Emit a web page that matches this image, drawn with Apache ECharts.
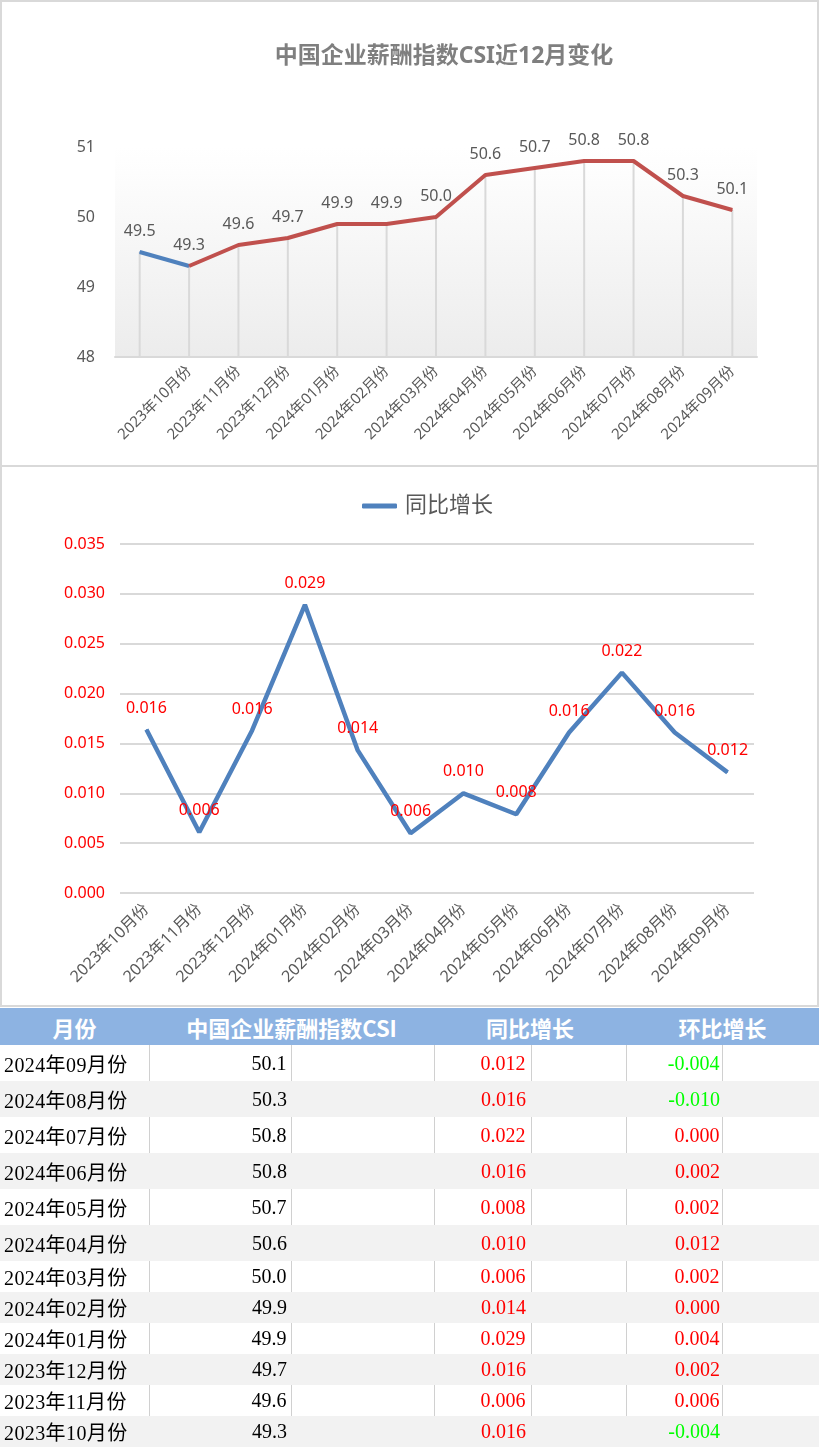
<!DOCTYPE html>
<html>
<head>
<meta charset="utf-8">
<script src="https://cdn.jsdelivr.net/npm/echarts@6/dist/echarts.min.js"></script>
<style>
html,body{margin:0;padding:0;background:#fff;width:819px;height:1447px;overflow:hidden;}
#c1{position:absolute;left:0;top:0;width:819px;height:466px;}
#c2{position:absolute;left:0;top:465px;width:819px;height:541px;}
.frame{position:absolute;box-sizing:border-box;border:2px solid #d9d9d9;pointer-events:none;}
#tbl{position:absolute;left:0;top:1008px;width:819px;border-collapse:collapse;table-layout:fixed;}
#tbl th{background:#8db3e2;color:#fff;font-family:"Noto Sans CJK SC","Noto Sans",sans-serif;font-weight:bold;font-size:22px;height:37px;padding:0;text-align:center;}
#tbl td{font-family:"Liberation Serif","Noto Sans CJK SC",serif;font-size:20px;padding:0;white-space:nowrap;overflow:hidden;}
#tbl tr.w td{background:#fff;border-right:1px solid #d0d0d0;}
#tbl tr.g td{background:#f2f2f2;}
#tbl td.m{text-align:left;padding-left:4px;color:#000;letter-spacing:0.4px;}
#tbl td.v{text-align:right;padding-right:4px;color:#000;}
#tbl td.y{text-align:right;padding-right:5px;}
#tbl td.h{text-align:right;padding-right:2px;}
</style>
</head>
<body>
<div id="c1"></div>
<div id="c2"></div>
<div class="frame" style="left:0;top:0;width:819px;height:467px;"></div>
<div class="frame" style="left:0;top:465px;width:819px;height:542px;"></div>
<table id="tbl">
<colgroup><col style="width:149px"><col style="width:142px"><col style="width:143px"><col style="width:97px"><col style="width:95px"><col style="width:96px"><col style="width:97px"></colgroup>
<thead><tr><th colspan="1">月份</th><th colspan="2">中国企业薪酬指数CSI</th><th colspan="2">同比增长</th><th colspan="2">环比增长</th></tr></thead>
<tbody id="tb"></tbody>
</table>
<script>
// ---- data ----
const csiTitle = '中国企业薪酬指数CSI近12月变化';
const csiCategories = ['', '2023年10月份', '2023年11月份', '2023年12月份', '2024年01月份', '2024年02月份', '2024年03月份', '2024年04月份', '2024年05月份', '2024年06月份', '2024年07月份', '2024年08月份', '2024年09月份'];
const csiValues = [49.5, 49.3, 49.6, 49.7, 49.9, 49.9, 50.0, 50.6, 50.7, 50.8, 50.8, 50.3, 50.1];
const csiTicks = [48, 49, 50, 51];

const yoyName = '同比增长';
const yoyCategories = ['2023年10月份', '2023年11月份', '2023年12月份', '2024年01月份', '2024年02月份', '2024年03月份', '2024年04月份', '2024年05月份', '2024年06月份', '2024年07月份', '2024年08月份', '2024年09月份'];
const yoyValues = [0.0164, 0.0061, 0.0163, 0.0289, 0.0143, 0.0060, 0.0100, 0.0079, 0.0161, 0.0221, 0.0161, 0.0121];

const tableMonths = ['2024年09月份', '2024年08月份', '2024年07月份', '2024年06月份', '2024年05月份', '2024年04月份', '2024年03月份', '2024年02月份', '2024年01月份', '2023年12月份', '2023年11月份', '2023年10月份'];
const tableCsi = [50.1, 50.3, 50.8, 50.8, 50.7, 50.6, 50.0, 49.9, 49.9, 49.7, 49.6, 49.3];
const tableYoy = [0.012, 0.016, 0.022, 0.016, 0.008, 0.010, 0.006, 0.014, 0.029, 0.016, 0.006, 0.016];
const tableMom = [-0.004, -0.010, 0.000, 0.002, 0.002, 0.012, 0.002, 0.000, 0.004, 0.002, 0.006, -0.004];

// ---- chart 1 ----
const FONT = '"Noto Sans", "Noto Sans CJK SC", sans-serif';
const c1 = echarts.init(document.getElementById('c1'));
const blueData = csiValues.map((v, i) => i === 0 ? {value: v, label: {show: true}} : (i === 1 ? v : '-'));
const redData = csiValues.map((v, i) => i === 0 ? '-' : v);
c1.setOption({
  animation: false,
  textStyle: {fontFamily: FONT},
  title: {
    text: csiTitle, left: 444, top: 45, textAlign: 'center', padding: 0,
    textStyle: {color: '#7f7f7f', fontSize: 23, fontWeight: 'bold', fontFamily: FONT}
  },
  grid: {
    left: 115, right: 62, top: 147, bottom: 109, show: true, borderWidth: 0,
    backgroundColor: new echarts.graphic.LinearGradient(0, 0, 0, 1, [
      {offset: 0, color: '#ffffff'}, {offset: 0.12, color: '#fdfdfd'}, {offset: 1, color: '#ececec'}
    ])
  },
  xAxis: {
    type: 'category', data: csiCategories, boundaryGap: true,
    axisLine: {lineStyle: {color: '#d9d9d9', width: 2}},
    axisTick: {show: false},
    axisLabel: {rotate: 45, interval: 0, color: '#595959', fontSize: 15, margin: 12, fontFamily: FONT}
  },
  yAxis: {
    type: 'value', min: csiTicks[0], max: csiTicks[csiTicks.length - 1], interval: 1,
    axisLine: {show: false}, axisTick: {show: false}, splitLine: {show: false},
    axisLabel: {color: '#595959', fontSize: 16, margin: 20, fontFamily: FONT}
  },
  series: [
    {type: 'bar', data: csiValues, barWidth: 2, itemStyle: {color: '#d9d9d9'}, silent: true, z: 1},
    {type: 'line', data: blueData, symbol: 'circle', symbolSize: 1, showSymbol: true, lineStyle: {color: '#4f81bd', width: 4}, itemStyle: {color: '#4f81bd'},
      label: {show: false, position: 'top', distance: 12, color: '#595959', fontSize: 16, formatter: p => Number(p.value).toFixed(1)}, z: 3},
    {type: 'line', data: redData, symbol: 'circle', symbolSize: 1, showSymbol: true, lineStyle: {color: '#c0504d', width: 4}, itemStyle: {color: '#c0504d'},
      label: {show: true, position: 'top', distance: 12, color: '#595959', fontSize: 16, formatter: p => Number(p.value).toFixed(1)}, z: 3}
  ]
});

// ---- chart 2 ----
const c2 = echarts.init(document.getElementById('c2'));
c2.setOption({
  animation: false,
  textStyle: {fontFamily: FONT},
  legend: {
    data: [yoyName], left: 357, top: 25, icon: 'roundRect', itemWidth: 35, itemHeight: 5,
    textStyle: {color: '#595959', fontSize: 22, padding: [0, 0, 0, 3], fontFamily: FONT}
  },
  grid: {left: 120, right: 65, top: 79, bottom: 113},
  xAxis: {
    type: 'category', data: yoyCategories, boundaryGap: true,
    axisLine: {show: false}, axisTick: {show: false},
    axisLabel: {rotate: 45, interval: 0, color: '#595959', fontSize: 16, margin: 14, fontFamily: FONT}
  },
  yAxis: {
    type: 'value', min: 0, max: 0.035, interval: 0.005,
    axisLine: {show: false}, axisTick: {show: false},
    splitLine: {lineStyle: {color: '#d9d9d9', width: 2}},
    axisLabel: {color: '#ff0000', fontSize: 16, margin: 15, formatter: v => v.toFixed(3), fontFamily: FONT}
  },
  series: [
    {name: yoyName, type: 'line', data: yoyValues, symbol: 'circle', symbolSize: 1, showSymbol: true,
      lineStyle: {color: '#4f81bd', width: 4.5}, itemStyle: {color: '#4f81bd'},
      label: {show: true, position: 'top', distance: 13, color: '#ff0000', fontSize: 16, formatter: p => Number(p.value).toFixed(3)}}
  ]
});

// ---- table ----
const rowHeights = [36, 36, 36, 36, 36, 36, 31, 31, 31, 31, 31, 31];
const tb = document.getElementById('tb');
tableMonths.forEach((m, i) => {
  const tr = document.createElement('tr');
  tr.className = i % 2 === 0 ? 'w' : 'g';
  tr.style.height = rowHeights[i] + 'px';
  const momColor = tableMom[i] < 0 ? '#00ff00' : '#ff0000';
  tr.innerHTML =
    '<td class="m">' + m + '</td>' +
    '<td class="v">' + tableCsi[i].toFixed(1) + '</td><td></td>' +
    '<td class="y" style="color:#ff0000">' + tableYoy[i].toFixed(3) + '</td><td></td>' +
    '<td class="h" style="color:' + momColor + '">' + tableMom[i].toFixed(3) + '</td><td></td>';
  tb.appendChild(tr);
});
</script>
</body>
</html>
